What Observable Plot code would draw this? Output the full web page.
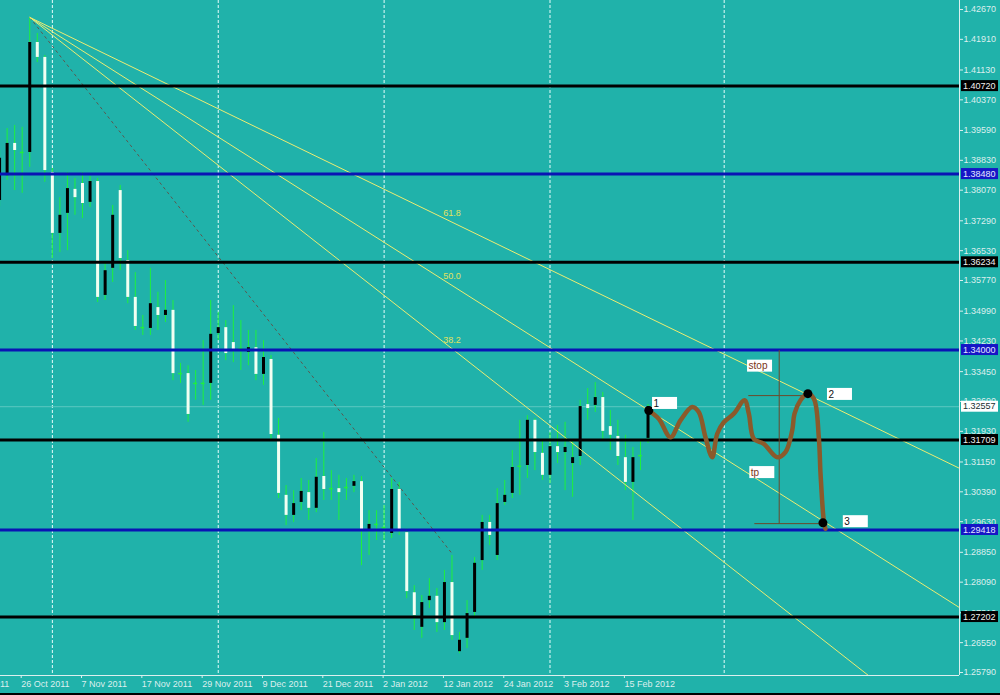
<!DOCTYPE html>
<html><head><meta charset="utf-8">
<script src="https://cdn.jsdelivr.net/npm/d3@7"></script>
<script src="https://cdn.jsdelivr.net/npm/@observablehq/plot@0.6"></script>
<style>
html,body{margin:0;padding:0;background:#000;overflow:hidden}
#chart svg{display:block}
</style></head><body><div id="chart"></div>
<script>
// Daily EURUSD bars; bar index 0 = 26 Oct 2011, first bar (-3) = 21 Oct 2011
const firstBar = -3;
const opens = [1.3781,1.3844,1.3926,1.3903,1.3903,1.4183,1.4145,1.3852,1.3697,1.3748,1.3809,1.3824,1.3776,1.3829,1.3539,1.3608,1.3806,1.3628,1.3534,1.3457,1.3455,1.3508,1.3488,1.3501,1.3340,1.3340,1.3315,1.3315,1.3315,1.3442,1.3457,1.3419,1.3404,1.3394,1.3406,1.3338,1.3376,1.3183,1.3030,1.2979,1.3012,1.3037,1.2997,1.3078,1.3047,1.3047,1.3050,1.3053,1.3065,1.2941,1.2956,1.2948,1.2933,1.3045,1.2935,1.2782,1.2694,1.2762,1.2773,1.2706,1.2808,1.2632,1.2666,1.2732,1.2864,1.2961,1.2877,1.3012,1.3035,1.3104,1.3106,1.3221,1.3137,1.3081,1.3154,1.3139,1.3111,1.3129,1.3261,1.3259,1.3279,1.3205,1.3180,1.3126,1.3063,1.3131,1.3175];
const highs = [1.3908,1.3964,1.3972,1.3967,1.4247,1.4206,1.4150,1.3862,1.3788,1.3852,1.3837,1.3852,1.3842,1.3837,1.3623,1.3768,1.3819,1.3653,1.3597,1.3488,1.3608,1.3547,1.3577,1.3526,1.3366,1.3360,1.3348,1.3424,1.3526,1.3496,1.3475,1.3513,1.3475,1.3450,1.3450,1.3424,1.3386,1.3226,1.3055,1.3042,1.3073,1.3068,1.3124,1.3190,1.3093,1.3081,1.3073,1.3081,1.3078,1.2991,1.2991,1.3004,1.3073,1.3063,1.2945,1.2800,1.2775,1.2818,1.2793,1.2839,1.2877,1.2681,1.2762,1.2872,1.2979,1.2979,1.3047,1.3068,1.3144,1.3221,1.3233,1.3226,1.3170,1.3190,1.3208,1.3216,1.3170,1.3272,1.3302,1.3317,1.3292,1.3246,1.3221,1.3183,1.3152,1.3170,1.3261];
const lows = [1.3765,1.3832,1.3806,1.3799,1.3865,1.4132,1.3827,1.3633,1.3648,1.3653,1.3743,1.3735,1.3763,1.3521,1.3526,1.3572,1.3602,1.3518,1.3450,1.3437,1.3437,1.3450,1.3470,1.3322,1.3315,1.3216,1.3272,1.3259,1.3272,1.3424,1.3373,1.3368,1.3348,1.3360,1.3322,1.3310,1.3170,1.3022,1.2953,1.2961,1.2991,1.2966,1.2986,1.3017,1.3017,1.2966,1.3017,1.3037,1.2851,1.2877,1.2915,1.2915,1.2920,1.2928,1.2767,1.2686,1.2666,1.2742,1.2681,1.2686,1.2661,1.2627,1.2640,1.2717,1.2839,1.2902,1.2864,1.3004,1.3022,1.3030,1.3073,1.3093,1.3068,1.3060,1.3111,1.3042,1.3025,1.3106,1.3221,1.3241,1.3170,1.3144,1.3106,1.3042,1.2966,1.3093,1.3162];
const closes = [1.3888,1.3926,1.3908,1.3905,1.4183,1.4145,1.3857,1.3697,1.3743,1.3811,1.3788,1.3773,1.3829,1.3534,1.3602,1.3743,1.3633,1.3534,1.3460,1.3458,1.3518,1.3488,1.3501,1.3340,1.3341,1.3236,1.3317,1.3313,1.3440,1.3457,1.3391,1.3401,1.3402,1.3406,1.3338,1.3381,1.3185,1.3035,1.2979,1.3009,1.3040,1.2997,1.3076,1.3045,1.3046,1.3037,1.3049,1.3065,1.2941,1.2956,1.2955,1.2950,1.3045,1.2941,1.2785,1.2724,1.2757,1.2773,1.2706,1.2808,1.2673,1.2661,1.2729,1.2857,1.2961,1.2928,1.3009,1.3030,1.3101,1.3103,1.3221,1.3139,1.3081,1.3154,1.3139,1.3152,1.3126,1.3256,1.3251,1.3279,1.3193,1.3183,1.3129,1.3063,1.3126,1.3132,1.3256];

// x-axis tick labels (bar index of each labelled date)
const tickIdx = [-8,0,8,16,24,32,40,48,56,64,72,80];
const tickLabels = ["14 Oct 2011","26 Oct 2011","7 Nov 2011","17 Nov 2011","29 Nov 2011","9 Dec 2011","21 Dec 2011","2 Jan 2012","12 Jan 2012","24 Jan 2012","3 Feb 2012","15 Feb 2012"];
// price axis ticks
const yTicks = [1.42670,1.41910,1.41130,1.40370,1.39590,1.38830,1.38070,1.37290,1.36530,1.35770,1.34990,1.34230,1.33450,1.32690,1.31930,1.31150,1.30390,1.29630,1.28850,1.28090,1.27310,1.26550,1.25790];
// month separators (bar index)
const sepIdx = [4,26,48,70,93.1];
// horizontal levels
const levelValues = [1.40720,1.38480,1.36234,1.34000,1.31709,1.29418,1.27202];
const levelKinds  = ["black","blue","black","blue","black","blue","black"];
const bid = 1.32557;
// Fibonacci fan: from 27 Oct high to 13 Jan point
const fanA = {i: 1, p: 1.4247};
const fanB = {i: 57, p: 1.2882};
const fibLevels = [61.8, 50.0, 38.2];
// hand-drawn projection path
const pathIdx = [83.10,84.43,85.98,87.31,88.86,89.73,90.62,91.51,92.18,93.05,94.38,95.80,96.37,97.03,98.36,100.13,101.23,102.12,102.43,103.22,104.11,104.99,105.65,105.88,106.31,106.53];
const pathPrice = [1.3246,1.3225,1.3178,1.3221,1.3255,1.3242,1.3178,1.3127,1.3187,1.3216,1.3238,1.3272,1.3238,1.3174,1.3161,1.3127,1.3140,1.3195,1.3238,1.3272,1.3289,1.3276,1.3178,1.3085,1.2966,1.2945];
const blobIdx = [83.1,104.2,106.2];
const blobPrice = [1.3246,1.3289,1.2960];
// measuring lines
const measure = [
  {i1:100.4, p1:1.3400, i2:100.4, p2:1.2958},
  {i1:96.3, p1:1.3284, i2:104.3, p2:1.3284},
  {i1:97.1, p1:1.2958, i2:106.3, p2:1.2958}
];
// note boxes
const noteText = ["1","2","3","stop","tp"];
const noteIdx = [83.6,106.8,108.9,96.2,96.5];
const notePrice = [1.3264,1.3287,1.2963,1.3359,1.3088];

(function(){
const GREEN = "#1ef03c", BLUE = "#0a14b4", AX = "#dcefee", FAN = "#ecec72";
const FONT = "'Liberation Sans', Arial, sans-serif";
const candles = opens.map((o,k)=>({i:firstBar+k, o, h:highs[k], l:lows[k], c:closes[k]}));
const bodies = candles.filter(d=>Math.abs(d.c-d.o)>=0.00025);
const dojis = candles.filter(d=>Math.abs(d.c-d.o)<0.00025);
const levels = levelValues.map((v,k)=>({value:v, color: levelKinds[k]==="blue"?BLUE:"#000", kind: levelKinds[k]}));
const iEnd = 135;
const fanSegs = fibLevels.map(L=>({L, x1:fanA.i, y1:fanA.p, x2:iEnd,
  y2: fanA.p + (fanB.p-fanA.p)*(1-L/100)*(iEnd-fanA.i)/(fanB.i-fanA.i)}));
const path = pathIdx.map((i,k)=>({i, p:pathPrice[k]}));
const blobs = blobIdx.map((i,k)=>({i, p:blobPrice[k]}));

const plot = Plot.plot({
  width: 1000, height: 693,
  marginLeft: 0, marginRight: 41, marginTop: 0, marginBottom: 18,
  x: {type:"linear", domain:[-2.878, 124.31]},
  y: {domain:[1.257136, 1.428991]},
  style: {background:"#20b2aa", color: AX, fontFamily: FONT},
  marks: [
    Plot.ruleX(sepIdx, {stroke:"#e8fcfc", strokeDasharray:"3,2", strokeWidth:1}),
    Plot.ruleY([bid], {stroke:"#5cc8c0", strokeWidth:1}),
    Plot.ruleX(candles, {x:"i", y1:"l", y2:"h", stroke:GREEN, strokeWidth:1}),
    Plot.ruleX(bodies, {x:"i", y1:"o", y2:"c", stroke:d=>d.c>d.o?"#000":"#f2fff2", strokeWidth:3}),
    Plot.ruleY(dojis, {y:"o", x1:d=>d.i-0.25, x2:d=>d.i+0.25, stroke:GREEN, strokeWidth:1.5}),
    Plot.link([fanA], {x1:"i", y1:"p", x2:()=>fanB.i, y2:()=>fanB.p, stroke:"#5c5850", strokeDasharray:"3,3", strokeWidth:1}),
    Plot.link(fanSegs, {x1:"x1", y1:"y1", x2:"x2", y2:"y2", stroke:FAN, strokeWidth:1, clip:true}),
    Plot.text(fibLevels, {x:()=>fanB.i, y:L=>fanB.p+(fanA.p-fanB.p)*L/100, text:L=>L.toFixed(1), dy:-9, fill:"#e2e25e", fontSize:9}),
    Plot.ruleY(levels, {y:"value", stroke:"color", strokeWidth:3}),
    Plot.link(measure, {x1:"i1", y1:"p1", x2:"i2", y2:"p2", stroke:"#6a4a2c", strokeWidth:1}),
    Plot.line(path, {x:"i", y:"p", curve:"catmull-rom", stroke:"#8b5a2b", strokeWidth:4.5, strokeLinejoin:"round", strokeLinecap:"round"}),
    Plot.dot(blobs, {x:"i", y:"p", r:4.5, fill:"#000"}),
    Plot.axisX({ticks:tickIdx, tickFormat:d=>tickLabels[tickIdx.indexOf(d)], textAnchor:"start", dx:-1, tickSize:3, tickPadding:2, fontSize:9, label:null}),
    Plot.axisY({anchor:"right", ticks:yTicks, tickFormat:d=>d.toFixed(5), tickSize:3, tickPadding:1, fontSize:9, label:null})
  ]
});
document.getElementById("chart").appendChild(plot);

// overlays positioned through Plot's own scales
const svg = d3.select(plot);
const xs = plot.scale("x"), ys = plot.scale("y");
const X = v=>xs.apply(v), Y = v=>ys.apply(v);
const xr = xs.range, yr = ys.range;
const pxRight = Math.max(...xr), pxLeft = Math.min(...xr), pxBottom = Math.max(...yr), pxTop = Math.min(...yr);
svg.append("line").attr("x1",pxRight+0.5).attr("x2",pxRight+0.5).attr("y1",pxTop).attr("y2",pxBottom).attr("stroke",AX);
svg.append("line").attr("x1",pxLeft).attr("x2",pxRight).attr("y1",pxBottom+0.5).attr("y2",pxBottom+0.5).attr("stroke",AX);

const g = svg.append("g").attr("font-size",9).attr("font-family",FONT).attr("text-anchor","start");
const boxed = levels.map(l=>({v:l.value, fill:l.kind==="blue"?"#1616c6":"#000", txt:l.kind==="blue"?"#e4e8ff":"#f0f0f0"}))
  .concat([{v:bid, fill:"#fff", txt:"#203030"}]);
boxed.forEach(b=>{
  const y = Y(b.v);
  g.append("rect").attr("x",pxRight+2).attr("y",y-5.5).attr("width",37).attr("height",11).attr("fill",b.fill);
  g.append("text").attr("x",pxRight+4).attr("y",y).attr("dy","0.35em").attr("fill",b.txt).text(b.v.toFixed(5));
});
const ng = svg.append("g").attr("font-size",10).attr("font-family",FONT).attr("text-anchor","start");
noteText.forEach((t,k)=>{
  const x = X(noteIdx[k]), y = Y(notePrice[k]);
  ng.append("rect").attr("x",x).attr("y",y-6).attr("width",25).attr("height",12).attr("fill","#fff");
  ng.append("text").attr("x",x+1.5).attr("y",y).attr("dy","0.36em").attr("fill", t.length>1?"#7a3418":"#111").text(t);
});
})();
</script></body></html>
